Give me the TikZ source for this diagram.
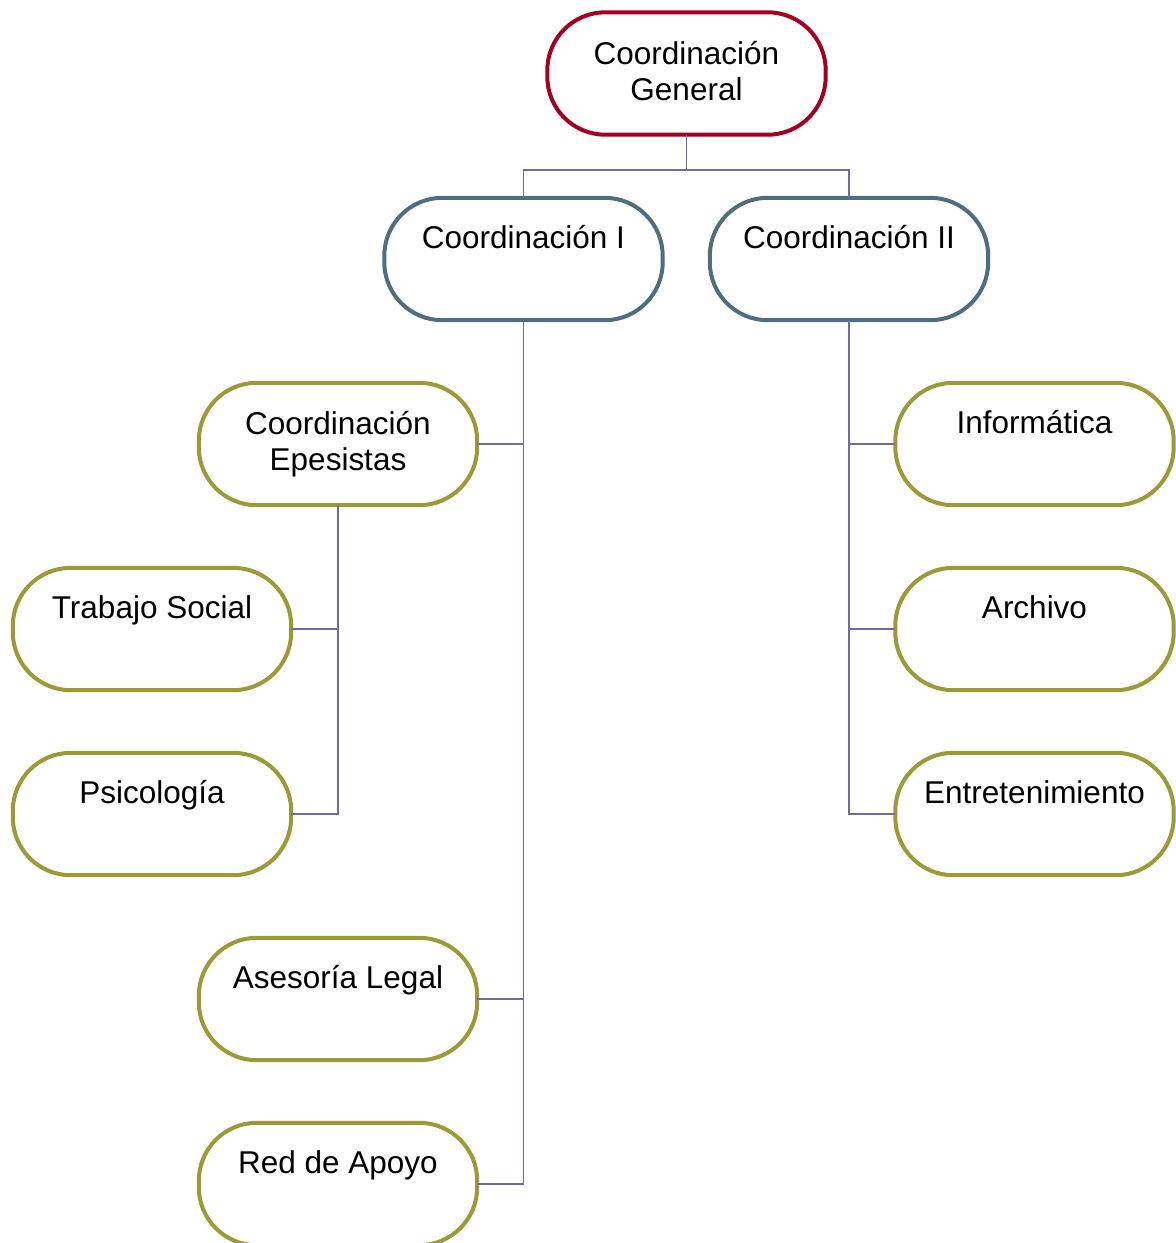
\documentclass[tikz,border=0pt]{standalone}
\usepackage{fontspec}
\setmainfont{Liberation Sans}
\definecolor{cRed}{HTML}{A50021}
\definecolor{cBlue}{HTML}{4E6E80}
\definecolor{cOlive}{HTML}{9A9A36}
\definecolor{cLine}{HTML}{6E6AA6}
\newcommand\mybl{\\\rule[-8pt]{0pt}{8pt}}
\tikzset{
  pillborder/.style={line width=4pt, draw=#1},
  box/.style={rectangle, minimum width=278pt, minimum height=122pt, inner sep=0pt,
    align=center, font=\fontsize{31.5}{36}\selectfont,
    append after command={\pgfextra{%
      \draw[pillborder=#1]
        ([xshift=58pt]\tikzlastnode.north west) -- ([xshift=-58pt]\tikzlastnode.north east)
        arc[start angle=90, end angle=0, radius=58pt]
        -- ([yshift=58pt]\tikzlastnode.south east)
        arc[start angle=0, end angle=-90, radius=58pt]
        -- ([xshift=58pt]\tikzlastnode.south west)
        arc[start angle=270, end angle=180, radius=58pt]
        -- ([yshift=-58pt]\tikzlastnode.north west)
        arc[start angle=180, end angle=90, radius=58pt] -- cycle;}}},
  topbox/.style={box=cRed},
  midbox/.style={box=cBlue},
  leafbox/.style={box=cOlive},
  conn/.style={draw=cLine, line width=1.6pt}
}
\begin{document}
\begin{tikzpicture}[x=1pt,y=-1pt]
\useasboundingbox (0,0) rectangle (1176,1243);
\clip (0,0) rectangle (1176,1243);
\node[topbox] (G) at (686.5,73.5) {Coordinación\\General\rule[-6pt]{0pt}{1pt}};
\node[midbox] (C1) at (523.5,259) {Coordinación I\mybl};
\node[midbox] (C2) at (849,259) {Coordinación II\mybl};
\node[leafbox] (Ep) at (338,444) {Coordinación\\Epesistas};
\node[leafbox] (TS) at (152,629) {Trabajo Social\mybl};
\node[leafbox] (Ps) at (152,814) {Psicología\mybl};
\node[leafbox] (AL) at (338,999) {Asesoría Legal\mybl};
\node[leafbox] (RA) at (338,1184) {Red de Apoyo\mybl};
\node[leafbox] (In) at (1034.5,444) {Informática\mybl};
\node[leafbox] (Ar) at (1034.5,629) {Archivo\mybl};
\node[leafbox] (En) at (1034.5,814) {Entretenimiento\mybl};
\coordinate (bus) at (686.5,170);
\draw[conn] (G.south) -- (bus);
\draw[conn] (C1.north) |- (bus) -| (C2.north);
\draw[conn] (C1.south) |- (RA.east);
\draw[conn] (C1.south |- Ep.east) -- (Ep.east);
\draw[conn] (C1.south |- AL.east) -- (AL.east);
\draw[conn] (Ep.south) |- (Ps.east);
\draw[conn] (Ep.south |- TS.east) -- (TS.east);
\draw[conn] (C2.south) |- (En.west);
\draw[conn] (C2.south |- In.west) -- (In.west);
\draw[conn] (C2.south |- Ar.west) -- (Ar.west);
\end{tikzpicture}
\end{document}
